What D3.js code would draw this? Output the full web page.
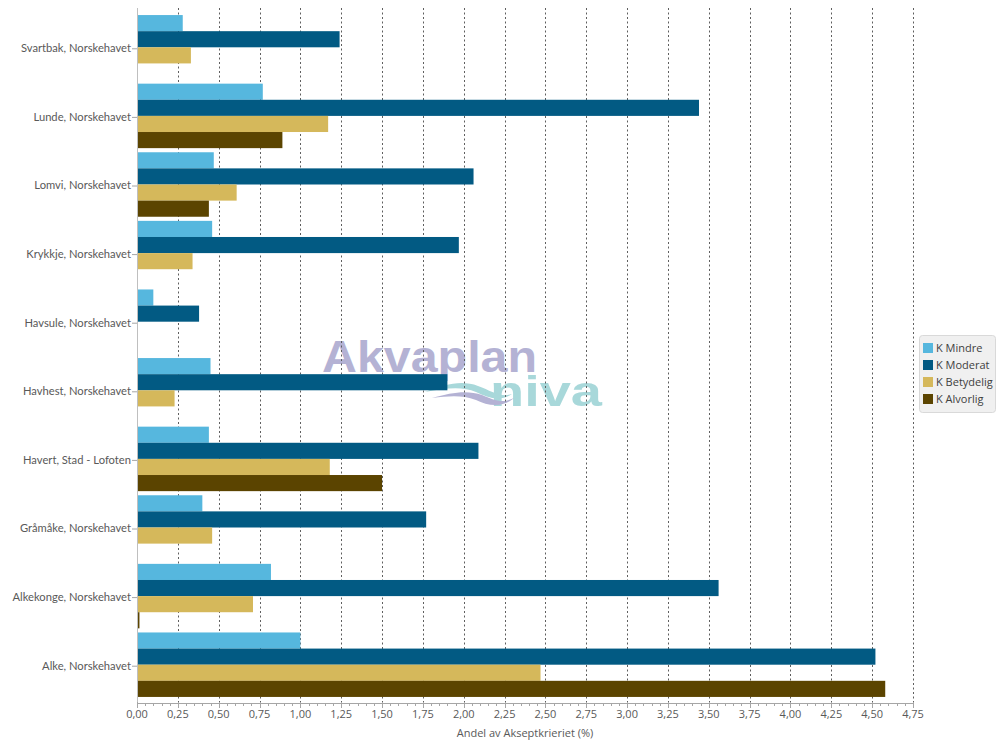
<!DOCTYPE html>
<html>
<head>
<meta charset="utf-8">
<script src="https://cdn.jsdelivr.net/npm/d3@7"></script>
<style>
  html, body { margin: 0; padding: 0; background: #ffffff; }
  svg { display: block; }
  text { font-family: "Open Sans", "Noto Sans", sans-serif; }
</style>
</head>
<body>
<svg id="chart" width="999" height="749"></svg>
<script>
// ---- data ----
const categories = [
  "Svartbak, Norskehavet",
  "Lunde, Norskehavet",
  "Lomvi, Norskehavet",
  "Krykkje, Norskehavet",
  "Havsule, Norskehavet",
  "Havhest, Norskehavet",
  "Havert, Stad - Lofoten",
  "Gråmåke, Norskehavet",
  "Alkekonge, Norskehavet",
  "Alke, Norskehavet"
];
const seriesNames = ["K Mindre", "K Moderat", "K Betydelig", "K Alvorlig"];
const mindre    = [0.28, 0.77, 0.47, 0.46, 0.10, 0.45, 0.44, 0.40, 0.82, 1.00];
const moderat   = [1.24, 3.44, 2.06, 1.97, 0.38, 1.90, 2.09, 1.77, 3.56, 4.52];
const betydelig = [0.33, 1.17, 0.61, 0.34, 0.00, 0.23, 1.18, 0.46, 0.71, 2.47];
const alvorlig  = [0.005, 0.89, 0.44, 0.00, 0.00, 0.00, 1.50, 0.005, 0.015, 4.58];
const xTicks = d3.range(0, 4.7501, 0.25);
const xMinorTicks = d3.range(0, 4.7501, 0.05);
const axisTitle = "Andel av Akseptkrieriet (%)";
const watermarkTop = "Akvaplan";
const watermarkBottom = "niva";

const seriesValues = [mindre, moderat, betydelig, alvorlig];
const colors = ["#56b7de", "#025a83", "#d5b85b", "#5b4400"];

// ---- layout ----
const svg = d3.select("#chart");
const plot = { left: 137, right: 913, top: 8, bottom: 703 };

const x = d3.scaleLinear().domain([0, 4.75]).range([plot.left, plot.right]);
const y = d3.scaleBand().domain(categories).range([13, 699])
  .paddingInner(0.06).paddingOuter(0.03);
const ySub = d3.scaleBand().domain(seriesNames).range([0, y.bandwidth()]).padding(0);

const fmt = v => d3.format(".2f")(v).replace(".", ",");

// ---- watermark ----
const wm = svg.append("g").attr("class", "watermark");
wm.append("text")
  .attr("x", 322).attr("y", 372)
  .attr("textLength", 215).attr("lengthAdjust", "spacingAndGlyphs")
  .style("font-family", "'Liberation Sans', Arial, sans-serif")
  .style("font-weight", "bold").style("font-size", "44px")
  .style("fill", "#b4b2d4").text(watermarkTop);
wm.append("text")
  .attr("x", 490).attr("y", 406)
  .attr("textLength", 112).attr("lengthAdjust", "spacingAndGlyphs")
  .style("font-family", "'Liberation Sans', Arial, sans-serif")
  .style("font-weight", "bold").style("font-size", "42px")
  .style("fill", "#a8d8da").text(watermarkBottom);
// swooshes
wm.append("path")
  .attr("d", "M425,392 C445,384 462,380 478,386 C492,391 500,398 512,394 C500,402 488,398 476,392 C462,386 446,388 425,392 Z")
  .style("fill", "#a8d8da");
wm.append("path")
  .attr("d", "M432,398 C452,392 468,390 482,395 C494,400 502,404 514,398 C503,408 488,406 476,400 C462,395 450,396 432,398 Z")
  .style("fill", "#b4b2d4");

// ---- gridlines ----
svg.append("g").selectAll("line")
  .data(xTicks.filter(d => d > 0))
  .join("line")
  .attr("x1", d => Math.round(x(d)) + 0.5).attr("x2", d => Math.round(x(d)) + 0.5)
  .attr("y1", plot.top).attr("y2", plot.bottom)
  .style("stroke", "#5e5e5e").style("stroke-width", 1)
  .style("stroke-dasharray", "2,2.5");

// ---- bars ----
const groups = svg.append("g").selectAll("g")
  .data(categories)
  .join("g")
  .attr("transform", d => `translate(0,${y(d)})`);

groups.selectAll("rect")
  .data((c, i) => seriesNames.map((s, j) => ({ s, v: seriesValues[j][i], j })))
  .join("rect")
  .attr("x", x(0))
  .attr("y", d => ySub(d.s))
  .attr("height", ySub.bandwidth())
  .attr("width", d => Math.max(0, x(d.v) - x(0)))
  .style("fill", d => colors[d.j]);

// ---- y axis ----
const yAxis = svg.append("g");
yAxis.append("line")
  .attr("x1", plot.left + 0.5).attr("x2", plot.left + 0.5)
  .attr("y1", plot.top).attr("y2", plot.bottom)
  .style("stroke", "#bfbfbf");
const yt = yAxis.selectAll("g.tick").data(categories).join("g")
  .attr("class", "tick")
  .attr("transform", d => `translate(0,${y(d) + y.bandwidth() / 2 + 1})`);
yt.append("line").attr("x1", plot.left - 5).attr("x2", plot.left)
  .attr("y1", 0.5).attr("y2", 0.5).style("stroke", "#a6a6a6");
yt.append("text").attr("x", plot.left - 6).attr("y", 0).attr("dy", "0.35em")
  .attr("text-anchor", "end")
  .style("font-family", "Lato, 'Open Sans', sans-serif")
  .style("font-size", "11.2px").style("fill", "#595959")
  .text(d => d);

// ---- x axis ----
const xAxisG = svg.append("g").attr("transform", `translate(0,${plot.bottom})`);
xAxisG.append("line")
  .attr("x1", plot.left).attr("x2", plot.right + 1)
  .attr("y1", 0.5).attr("y2", 0.5).style("stroke", "#a6a6a6");
xAxisG.selectAll("line.minor").data(xMinorTicks).join("line")
  .attr("class", "minor")
  .attr("x1", d => Math.round(x(d)) + 0.5).attr("x2", d => Math.round(x(d)) + 0.5)
  .attr("y1", 0).attr("y2", 3).style("stroke", "#a6a6a6");
xAxisG.selectAll("line.major").data(xTicks).join("line")
  .attr("class", "major")
  .attr("x1", d => Math.round(x(d)) + 0.5).attr("x2", d => Math.round(x(d)) + 0.5)
  .attr("y1", -1).attr("y2", 5).style("stroke", "#a6a6a6");
xAxisG.selectAll("text.lbl").data(xTicks).join("text")
  .attr("class", "lbl")
  .attr("x", d => x(d)).attr("y", 15)
  .attr("text-anchor", "middle")
  .style("font-size", "11px").style("fill", "#595959")
  .text(fmt);

svg.append("text")
  .attr("x", (plot.left + plot.right) / 2).attr("y", 737)
  .attr("text-anchor", "middle")
  .style("font-size", "11px").style("fill", "#595959")
  .text(axisTitle);

// ---- legend ----
const lg = svg.append("g").attr("transform", "translate(919,335)");
lg.append("rect").attr("x", 0.5).attr("y", 0.5).attr("width", 76).attr("height", 77)
  .attr("rx", 3).style("fill", "#f0f0f0").style("stroke", "#d9d9d9");
const li = lg.selectAll("g.item").data(seriesNames).join("g")
  .attr("class", "item")
  .attr("transform", (d, i) => `translate(4,${13 + i * 17})`);
li.append("rect").attr("x", 0).attr("y", -5).attr("width", 10).attr("height", 10)
  .style("fill", (d, i) => colors[i]);
li.append("text").attr("x", 13).attr("y", 0).attr("dy", "0.35em")
  .style("font-size", "11px").style("fill", "#404040")
  .text(d => d);
</script>
</body>
</html>
